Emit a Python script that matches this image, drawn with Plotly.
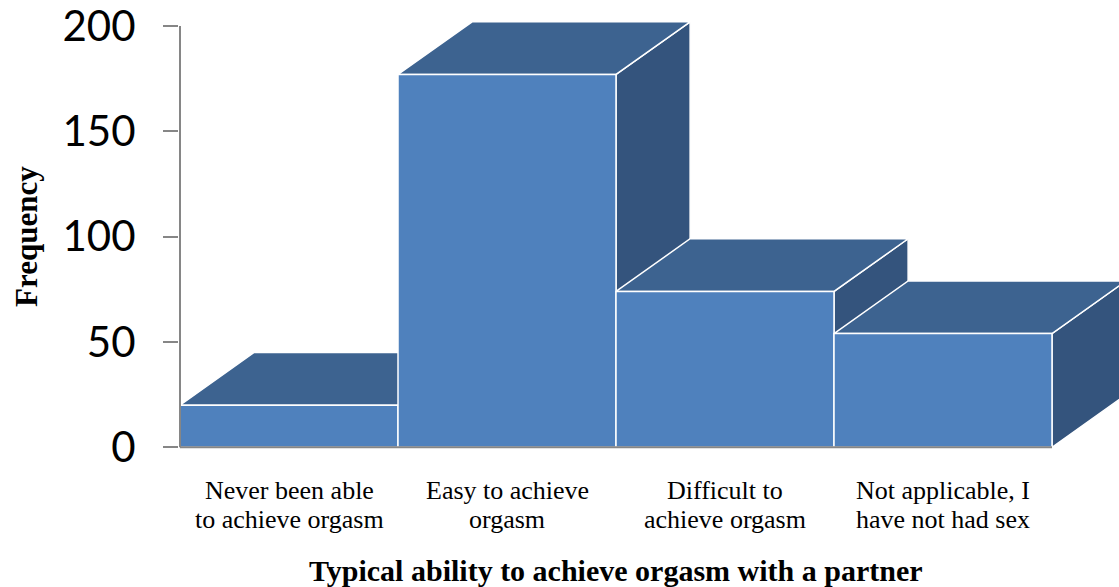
import plotly.graph_objects as go

# Categories (two-line labels), bar heights and y-axis ticks
categories = [
    "Never been able<br>to achieve orgasm",
    "Easy to achieve<br>orgasm",
    "Difficult to<br>achieve orgasm",
    "Not applicable, I<br>have not had sex",
]
frequency = [20, 177, 74, 54]
y_ticks = [0, 50, 100, 150, 200]

x_title = "Typical ability to achieve orgasm with a partner"
y_title = "Frequency"

# Face colours of the oblique "3-D" columns
FRONT = "#4F81BD"
TOP = "#3D6390"
SIDE = "#34547D"
EDGE = "#FFFFFF"
AXIS = "#868686"

HALF = 0.5           # columns touch each other (gap width 0)
DEPTH_X = 0.34       # oblique depth offset along x (category units)
DEPTH_Y = 25.0       # oblique depth offset along y (value units)

# Pixel geometry of the figure
W, H = 1119, 587
M_L, M_R, M_T, M_B = 179, 0, 10, 127
PX_PER_CAT = 218.0
PX_PER_VAL = 2.1065
ZERO_PX = 447.3

plot_h = H - M_T - M_B
plot_w = W - M_L - M_R
y_min = -(H - M_B - ZERO_PX) / PX_PER_VAL
y_max = y_min + plot_h / PX_PER_VAL
x_min = -0.5 - 1.0 / PX_PER_CAT
x_max = x_min + plot_w / PX_PER_CAT


def paper_y(px):
    return (H - M_B - px) / plot_h


def paper_x(px):
    return (px - M_L) / plot_w


fig = go.Figure()


def poly(xs, ys, color):
    fig.add_trace(go.Scatter(
        x=xs + [xs[0]], y=ys + [ys[0]], mode="lines", fill="toself",
        fillcolor=color, line=dict(color=EDGE, width=1.5),
        hoverinfo="skip", showlegend=False,
    ))


# Columns are drawn left to right so each one hides the side of its neighbour
for i, v in enumerate(frequency):
    x0, x1 = i - HALF, i + HALF
    poly([x1, x1 + DEPTH_X, x1 + DEPTH_X, x1], [0, DEPTH_Y, v + DEPTH_Y, v], SIDE)
    poly([x0, x1, x1 + DEPTH_X, x0 + DEPTH_X], [v, v, v + DEPTH_Y, v + DEPTH_Y], TOP)
    poly([x0, x1, x1, x0], [0, 0, v, v], FRONT)

# Category axis line and value axis line
fig.add_trace(go.Scatter(
    x=[-HALF, len(frequency) - HALF], y=[0, 0], mode="lines",
    line=dict(color=AXIS, width=2), hoverinfo="skip", showlegend=False,
))
fig.add_trace(go.Scatter(
    x=[-HALF, -HALF], y=[0, y_ticks[-1]], mode="lines",
    line=dict(color=AXIS, width=2), hoverinfo="skip", showlegend=False,
))

serif = "Liberation Serif, Times New Roman, serif"
annotations = []
line_centres = [490, 519]
for i, label in enumerate(categories):
    for j, part in enumerate(label.split("<br>")):
        annotations.append(dict(
            x=i, xref="x", y=paper_y(line_centres[j]), yref="paper",
            text=part, showarrow=False, xanchor="center", yanchor="middle",
            font=dict(family=serif, size=26, color="black"),
        ))

annotations.append(dict(
    x=1.5, xref="x", y=paper_y(570), yref="paper",
    text="<b>" + x_title + "</b>", showarrow=False,
    xanchor="center", yanchor="middle",
    font=dict(family=serif, size=30, color="black"),
))
annotations.append(dict(
    x=paper_x(26), xref="paper", y=paper_y(237), yref="paper",
    text="<b>" + y_title + "</b>", showarrow=False, textangle=-90,
    xanchor="center", yanchor="middle",
    font=dict(family=serif, size=31, color="black"),
))

fig.update_layout(
    width=W, height=H,
    margin=dict(l=M_L, r=M_R, t=M_T, b=M_B, pad=0),
    paper_bgcolor="white", plot_bgcolor="white",
    annotations=annotations,
    xaxis=dict(range=[x_min, x_max], showgrid=False, zeroline=False,
               showline=False, showticklabels=False, ticks=""),
    yaxis=dict(range=[y_min, y_max], showgrid=False, zeroline=False,
               showline=False, tickvals=y_ticks, ticks="outside",
               ticklen=15, tickwidth=2, tickcolor=AXIS,
               ticklabelstandoff=19, ticklabeloverflow="allow",
               tickfont=dict(family="Lato, Carlito, sans-serif", size=42,
                             color="black")),
)

fig.write_html("out.html")
